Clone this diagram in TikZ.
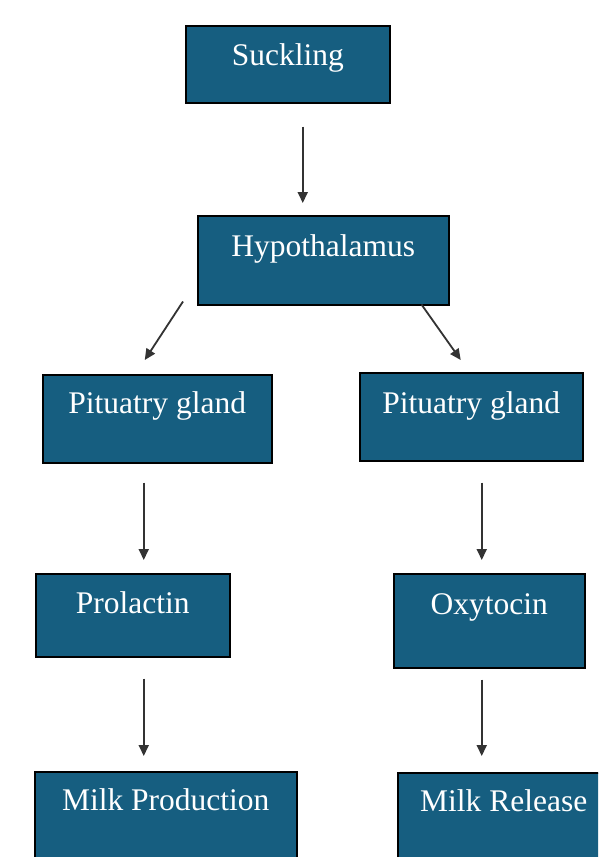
\documentclass[tikz,border=0pt]{standalone}
\usepackage{fontspec}
\setmainfont{Liberation Serif}
\usetikzlibrary{arrows.meta}
\definecolor{boxblue}{RGB}{22,94,128}
\tikzset{
  box/.style={draw=black, line width=1.5pt, fill=boxblue, anchor=north west, inner sep=0pt, rectangle},
  lbl/.style={anchor=base, text=white, inner sep=0pt, font=\fontsize{31.5}{36}\selectfont},
  arr/.style={draw=black!80, line width=1.8pt, -{Triangle[length=11pt,width=10pt]}}
}
\begin{document}
\begin{tikzpicture}[x=1pt,y=-1pt]
\clip (0,0) rectangle (598,857);
\fill[white] (0,0) rectangle (598,857);
% boxes
\node[box, minimum width=204pt, minimum height=77pt] (suck) at (185,25) {};
\node[box, minimum width=251pt, minimum height=89pt] (hypo) at (197,215) {};
\node[box, minimum width=229pt, minimum height=88pt] (pitl) at (42,374) {};
\node[box, minimum width=223pt, minimum height=88pt] (pitr) at (359,372) {};
\node[box, minimum width=194pt, minimum height=83pt] (prol) at (35,573) {};
\node[box, minimum width=191pt, minimum height=94pt] (oxy) at (393,573) {};
\node[box, minimum width=262pt, minimum height=120pt] (mprod) at (34,771) {};
\node[box, minimum width=220pt, minimum height=120pt] (mrel) at (397,772) {};
% labels
\node[lbl] (suckt) at ([yshift=-40pt]suck.north) {Suckling};
\node[lbl] (hypot) at ([yshift=-41pt]hypo.north) {Hypothalamus};
\node[lbl] (pitlt) at ([yshift=-39pt]pitl.north) {Pituatry gland};
\node[lbl] (pitrt) at ([yshift=-41pt]pitr.north) {Pituatry gland};
\node[lbl] (prolt) at ([yshift=-40pt]prol.north) {Prolactin};
\node[lbl] (oxyt) at ([yshift=-41pt]oxy.north) {Oxytocin};
\node[lbl] (mprodt) at ([yshift=-39pt]mprod.north) {Milk Production};
\node[lbl] (mrelt) at ([xshift=-4pt,yshift=-39pt]mrel.north) {Milk Release};
% arrow end points
\coordinate (a1s) at ([xshift=15pt,yshift=-23pt]suck.south);
\coordinate (a1e) at ([xshift=-20.5pt,yshift=12pt]hypo.north);
\coordinate (a2s) at ([xshift=-14pt,yshift=4pt]hypo.south west);
\coordinate (a2e) at ([xshift=-12.5pt,yshift=14pt]pitl.north);
\coordinate (a3s) at ([xshift=-28pt,yshift=1pt]hypo.south east);
\coordinate (a3e) at ([xshift=-10.5pt,yshift=12pt]pitr.north);
\coordinate (a4s) at ([xshift=-13.5pt,yshift=-19pt]pitl.south);
\coordinate (a4e) at ([xshift=11pt,yshift=13pt]prol.north);
\coordinate (a5s) at ([xshift=10.5pt,yshift=-21pt]pitr.south);
\coordinate (a5e) at ([xshift=-7.5pt,yshift=13pt]oxy.north);
\coordinate (a6s) at ([xshift=11pt,yshift=-21pt]prol.south);
\coordinate (a6e) at ([xshift=-22pt,yshift=15pt]mprod.north);
\coordinate (a7s) at ([xshift=-7.5pt,yshift=-11pt]oxy.south);
\coordinate (a7e) at ([xshift=-26pt,yshift=16pt]mrel.north);
% arrows
\draw[arr] (a1s) -- (a1e);
\draw[arr] (a2s) -- (a2e);
\draw[arr] (a3s) -- (a3e);
\draw[arr] (a4s) -- (a4e);
\draw[arr] (a5s) -- (a5e);
\draw[arr] (a6s) -- (a6e);
\draw[arr] (a7s) -- (a7e);
\end{tikzpicture}
\end{document}
